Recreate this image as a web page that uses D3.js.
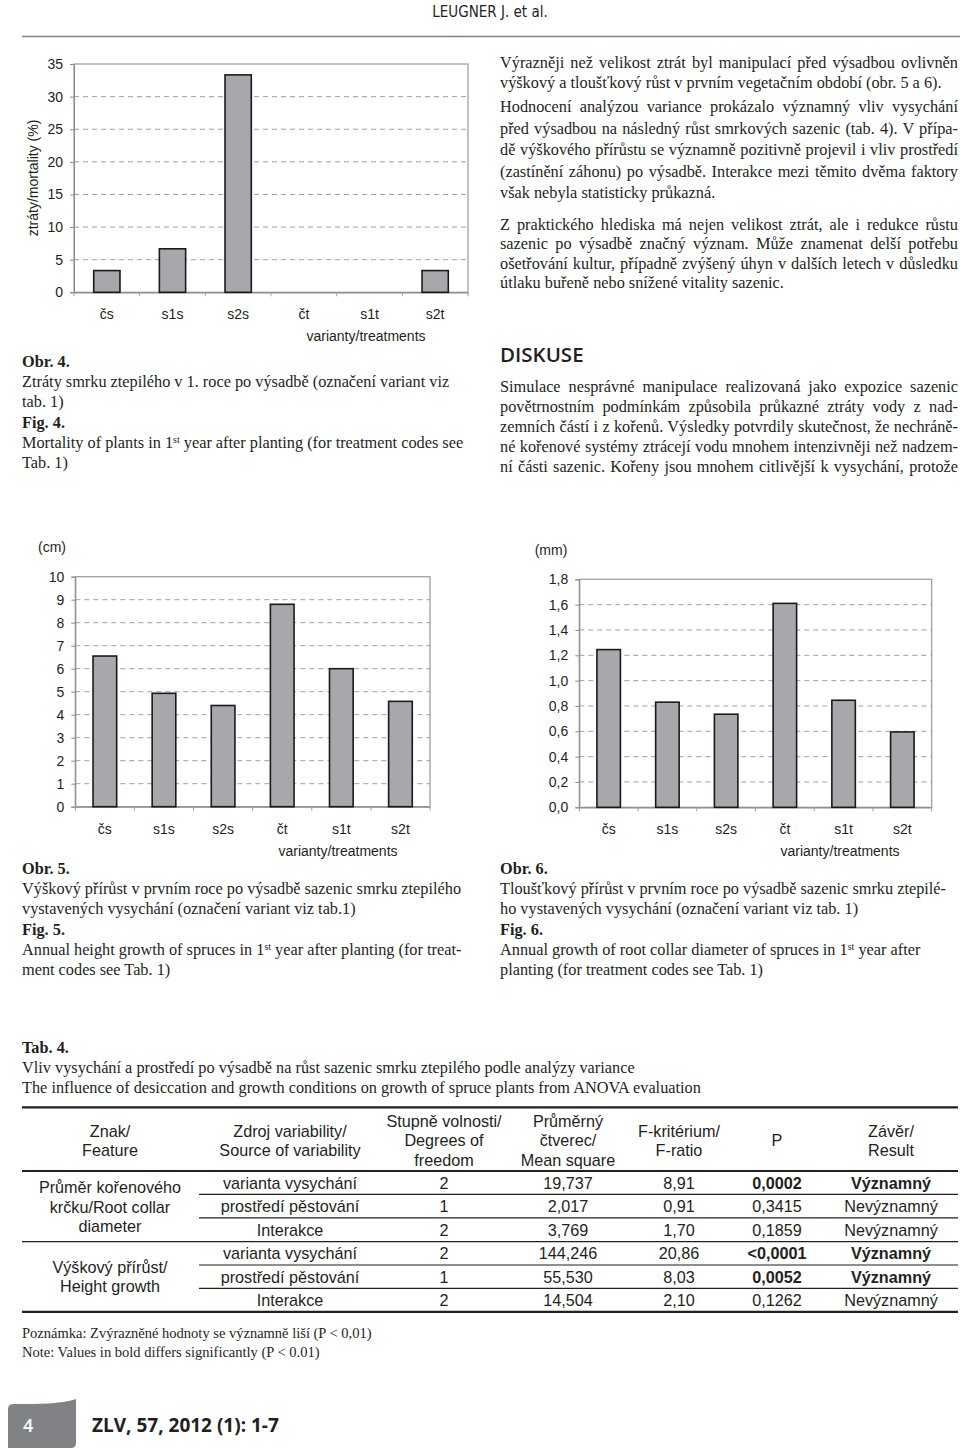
<!DOCTYPE html>
<html><head><meta charset="utf-8">
<script src="https://cdn.jsdelivr.net/npm/d3@7"></script>
<style>
body{margin:0;background:#fff;}
svg{display:block;}
.serif{font-family:"Liberation Serif","Times New Roman",serif;fill:#231f20;}
.sans{font-family:"Liberation Sans",Arial,sans-serif;fill:#231f20;}
</style>
</head><body>
<svg id="page" width="960" height="1451"></svg>
<script>
// ---------- DATA ----------
const categories = ["čs","s1s","s2s","čt","s1t","s2t"];
const mortality = [3.33, 6.67, 33.33, 0, 0, 3.33];
const mortalityTicks = [0,5,10,15,20,25,30,35];
const heightGrowth = [6.55, 4.93, 4.40, 8.80, 6.00, 4.58];
const heightTicks = [0,1,2,3,4,5,6,7,8,9,10];
const diameterGrowth = [1.245, 0.83, 0.735, 1.61, 0.845, 0.595];
const diameterTicks = [0,0.2,0.4,0.6,0.8,1.0,1.2,1.4,1.6,1.8];

const tableHeaders = [["Znak/","Feature"],["Zdroj variability/","Source of variability"],["Stupně volnosti/","Degrees of","freedom"],["Průměrný","čtverec/","Mean square"],["F-kritérium/","F-ratio"],["P"],["Závěr/","Result"]];
const featureGroups = [["Průměr kořenového","krčku/Root collar","diameter"],["Výškový přírůst/","Height growth"]];
const sources = ["varianta vysychání","prostředí pěstování","Interakce","varianta vysychání","prostředí pěstování","Interakce"];
const degreesFreedom = ["2","1","2","2","1","2"];
const meanSquares = ["19,737","2,017","3,769","144,246","55,530","14,504"];
const fRatios = ["8,91","0,91","1,70","20,86","8,03","2,10"];
const pValues = ["0,0002","0,3415","0,1859","<0,0001","0,0052","0,1262"];
const results = ["Významný","Nevýznamný","Nevýznamný","Významný","Významný","Nevýznamný"];
const significant = [true,false,false,true,true,false];

// ---------- PAGE ----------
const svg = d3.select("#page");
svg.append("rect").attr("width",960).attr("height",1451).attr("fill","#fff");

// header
svg.append("text").attr("x",490).attr("y",17).attr("text-anchor","middle")
  .attr("font-family","'DejaVu Sans Condensed','Liberation Sans Narrow',sans-serif").attr("font-size",15).attr("fill","#231f20")
  .text("LEUGNER J. et al.");
svg.append("line").attr("x1",22).attr("x2",960).attr("y1",36.5).attr("y2",36.5).attr("stroke","#808080").attr("stroke-width",1.5);

const SERIF = 16.3;
// ---------- helpers ----------
function textLine(x, yc, str, opts={}) {
  const t = svg.append("text").attr("class","serif").attr("x",x).attr("y",yc+5)
    .attr("font-size",opts.size||SERIF);
  if (opts.bold) t.attr("font-weight","bold");
  const parts = str.split(/\^(\w+)/);
  parts.forEach((p,i)=>{
    if (i%2===1) t.append("tspan").attr("baseline-shift","super").attr("font-size",10).text(p);
    else t.append("tspan").text(p);
  });
  if (opts.justify) {
    const w = t.node().getComputedTextLength();
    const n = (str.match(/ /g)||[]).length;
    if (n) t.style("word-spacing", ((opts.justify - w)/n) + "px");
  }
  return t;
}
function paragraph(x, yStart, lh, lines, width) {
  lines.forEach((l,i)=>textLine(x, yStart+i*lh, l, {justify: (i<lines.length-1 || width.all) ? width.w : null}));
}

// right column text
paragraph(500, 63, 20, ["Výrazněji než velikost ztrát byl manipulací před výsadbou ovlivněn",
  "výškový a tloušťkový růst v prvním vegetačním období (obr. 5 a 6)."], {w:458});
paragraph(500, 107, 21.5, ["Hodnocení analýzou variance prokázalo významný vliv vysychání",
  "před výsadbou na následný růst smrkových sazenic (tab. 4). V přípa-",
  "dě výškového přírůstu se významně pozitivně projevil i vliv prostředí",
  "(zastínění záhonu) po výsadbě. Interakce mezi těmito dvěma faktory",
  "však nebyla statisticky průkazná."], {w:458});
paragraph(500, 225, 19.4, ["Z praktického hlediska má nejen velikost ztrát, ale i redukce růstu",
  "sazenic po výsadbě značný význam. Může znamenat delší potřebu",
  "ošetřování kultur, případně zvýšený úhyn v dalších letech v důsledku",
  "útlaku buřeně nebo snížené vitality sazenic."], {w:458});
svg.append("text").attr("x",500).attr("y",362).attr("font-family","'Open Sans','Noto Sans',sans-serif")
  .attr("font-weight",600).attr("font-size",20.5).attr("fill","#231f20").text("DISKUSE");
paragraph(500, 387, 20, ["Simulace nesprávné manipulace realizovaná jako expozice sazenic",
  "povětrnostním podmínkám způsobila průkazné ztráty vody z nad-",
  "zemních částí i z kořenů. Výsledky potvrdily skutečnost, že nechráně-",
  "né kořenové systémy ztrácejí vodu mnohem intenzivněji než nadzem-",
  "ní části sazenic. Kořeny jsou mnohem citlivější k vysychání, protože"], {w:458, all:true});

// captions
function caption(x, y0, lines) {
  lines.forEach((l,i)=>textLine(x, y0 + i*20.2, l.t, {bold:l.b}));
}
caption(22, 362, [{t:"Obr. 4.",b:true},{t:"Ztráty smrku ztepilého v 1. roce po výsadbě (označení variant viz"},{t:"tab. 1)"},
  {t:"Fig. 4.",b:true},{t:"Mortality of plants in 1^st year after planting (for treatment codes see"},{t:"Tab. 1)"}]);
caption(22, 869, [{t:"Obr. 5.",b:true},{t:"Výškový přírůst v prvním roce po výsadbě sazenic smrku ztepilého"},{t:"vystavených vysychání (označení variant viz tab.1)"},
  {t:"Fig. 5.",b:true},{t:"Annual height growth of spruces in 1^st year after planting (for treat-"},{t:"ment codes see Tab. 1)"}]);
caption(500, 869, [{t:"Obr. 6.",b:true},{t:"Tloušťkový přírůst v prvním roce po výsadbě sazenic smrku ztepilé-"},{t:"ho vystavených vysychání (označení variant viz tab. 1)"},
  {t:"Fig. 6.",b:true},{t:"Annual growth of root collar diameter of spruces in 1^st year after"},{t:"planting (for treatment codes see Tab. 1)"}]);

// ---------- bar charts ----------
function barChart(o) {
  const g = svg.append("g");
  const x = d3.scaleBand().domain(categories).range([o.x0,o.x1]).paddingInner(0.6).paddingOuter(0.3);
  const y = d3.scaleLinear().domain([0,o.max]).range([o.yZero,o.yTop]);
  g.selectAll(".grid").data(o.ticks.slice(1,-1)).join("line")
    .attr("x1",o.x0).attr("x2",o.x1).attr("y1",d=>y(d)).attr("y2",d=>y(d))
    .attr("stroke","#a0a0a0").attr("stroke-width",1).attr("stroke-dasharray","5,4");
  g.append("rect").attr("x",o.x0).attr("y",o.yTop).attr("width",o.x1-o.x0).attr("height",o.yZero-o.yTop)
    .attr("fill","none").attr("stroke","#a0a0a0").attr("stroke-width",1.3);
  const ya = g.append("g").attr("transform",`translate(${o.x0},0)`)
    .call(d3.axisLeft(y).tickValues(o.ticks).tickSize(4).tickPadding(7).tickFormat(o.fmt));
  ya.select(".domain").attr("stroke","#8a8a8a");
  ya.selectAll(".tick line").attr("stroke","#8a8a8a");
  ya.selectAll("text").attr("font-family","'Liberation Sans',Arial,sans-serif").attr("font-size",14).attr("fill","#231f20");
  const xa = g.append("g").attr("transform",`translate(0,${o.yZero})`)
    .call(d3.axisBottom(x).tickSize(0).tickPadding(17));
  xa.select(".domain").attr("stroke","#8a8a8a").attr("stroke-width",1.3);
  xa.selectAll("text").attr("font-family","'Liberation Sans',Arial,sans-serif").attr("font-size",14).attr("fill","#231f20");
  const step = x.step();
  g.selectAll(".xt").data(d3.range(categories.length+1)).join("line")
    .attr("x1",i=>o.x0+i*step).attr("x2",i=>o.x0+i*step).attr("y1",o.yZero).attr("y2",o.yZero+4)
    .attr("stroke","#a0a0a0");
  g.selectAll(".bar").data(o.values).join("rect")
    .attr("x",(d,i)=>x(categories[i])).attr("width",x.bandwidth())
    .attr("y",d=>y(d)).attr("height",d=>o.yZero-y(d))
    .attr("fill",d=>d>0?"#a6a8ab":"none").attr("stroke",d=>d>0?"#1a1a1a":"none").attr("stroke-width",1.6);
  g.append("text").attr("class","sans").attr("x",o.tx).attr("y",o.ty+5).attr("text-anchor","middle")
    .attr("font-size",14).text("varianty/treatments");
  if (o.unit) g.append("text").attr("class","sans").attr("x",o.unit[0]).attr("y",o.unit[1]+5).attr("text-anchor","middle")
    .attr("font-size",14).text(o.unit[2]);
  if (o.ylab) g.append("text").attr("class","sans").attr("transform",`translate(${o.ylab[0]},${o.ylab[1]}) rotate(-90)`)
    .attr("text-anchor","middle").attr("dy","0.35em").attr("font-size",14).text(o.ylab[2]);
}
barChart({x0:74,x1:468,yTop:64,yZero:292.3,max:35,ticks:mortalityTicks,values:mortality,fmt:d3.format("d"),
  tx:366,ty:336,ylab:[33,178,"ztráty/mortality (%)"]});
barChart({x0:75.3,x1:430,yTop:576.7,yZero:806.7,max:10,ticks:heightTicks,values:heightGrowth,fmt:d3.format("d"),
  tx:338,ty:851,unit:[52,547,"(cm)"]});
barChart({x0:579.3,x1:931.7,yTop:579.3,yZero:807.3,max:1.8,ticks:diameterTicks,values:diameterGrowth,
  fmt:d=>d.toFixed(1).replace(".",","),tx:840,ty:851,unit:[551,550,"(mm)"]});

// ---------- table ----------
textLine(22, 1048, "Tab. 4.", {bold:true});
textLine(22, 1068, "Vliv vysychání a prostředí po výsadbě na růst sazenic smrku ztepilého podle analýzy variance");
textLine(22, 1088, "The influence of desiccation and growth conditions on growth of spruce plants from ANOVA evaluation");

const TF = 16.2;
const colX = [110, 290, 444, 568, 679, 777, 891];
const rowEdges = [1171, 1194.4, 1217.8, 1241.6, 1265, 1288.4, 1311.8];
const tg = svg.append("g");
tg.append("line").attr("x1",22).attr("x2",958).attr("y1",1107.3).attr("y2",1107.3).attr("stroke","#231f20").attr("stroke-width",2.2);
tg.append("line").attr("x1",22).attr("x2",958).attr("y1",rowEdges[0]).attr("y2",rowEdges[0]).attr("stroke","#231f20").attr("stroke-width",2.2);
tg.append("line").attr("x1",22).attr("x2",958).attr("y1",rowEdges[6]).attr("y2",rowEdges[6]).attr("stroke","#231f20").attr("stroke-width",2.2);
tg.append("line").attr("x1",22).attr("x2",958).attr("y1",rowEdges[3]).attr("y2",rowEdges[3]).attr("stroke","#231f20").attr("stroke-width",1.2);
[1,2,4,5].forEach(i=>tg.append("line").attr("x1",199).attr("x2",958).attr("y1",rowEdges[i]).attr("y2",rowEdges[i]).attr("stroke","#231f20").attr("stroke-width",1.2));
tableHeaders.forEach((lines,c)=>{
  lines.forEach((l,k)=>{
    tg.append("text").attr("class","sans").attr("font-size",TF).attr("text-anchor","middle")
      .attr("x",colX[c]).attr("y",1140.5 + (k-(lines.length-1)/2)*19.5 + 5.8).text(l);
  });
});
featureGroups.forEach((lines,gi)=>{
  const yc = gi===0 ? 1206.8 : 1276.8;
  lines.forEach((l,k)=>tg.append("text").attr("class","sans").attr("font-size",TF).attr("text-anchor","middle")
    .attr("x",colX[0]).attr("y",yc + (k-(lines.length-1)/2)*19.6 + 5.8).text(l));
});
const cols = [sources, degreesFreedom, meanSquares, fRatios, pValues, results];
sources.forEach((s,r)=>{
  const yc = (rowEdges[r]+rowEdges[r+1])/2;
  cols.forEach((col,ci)=>{
    const bold = significant[r] && ci>=4;
    tg.append("text").attr("class","sans").attr("font-size",TF).attr("text-anchor","middle")
      .attr("font-weight",bold?"bold":"normal")
      .attr("x",colX[ci+1]).attr("y",yc+5.8).text(col[r]);
  });
});
textLine(22, 1333, "Poznámka: Zvýrazněné hodnoty se významně liší (P < 0,01)", {size:14.5});
textLine(22, 1352, "Note: Values in bold differs significantly (P < 0.01)", {size:14.5});

// ---------- footer ----------
svg.append("path").attr("d","M8,1409 Q8,1404 14,1404 C40,1404 60,1404 76,1399 L76,1443 Q76,1448 71,1448 L8,1448 Z")
  .attr("fill","#808285");
svg.append("text").attr("x",23).attr("y",1432).attr("font-family","'Open Sans','Noto Sans',sans-serif")
  .attr("font-weight",600).attr("font-size",18).attr("fill","#fff").text("4");
svg.append("text").attr("x",92).attr("y",1432).attr("font-family","'Open Sans','Noto Sans',sans-serif")
  .attr("font-weight",700).attr("font-size",19).attr("fill","#231f20").text("ZLV, 57, 2012 (1): 1-7");
</script>
</body></html>
